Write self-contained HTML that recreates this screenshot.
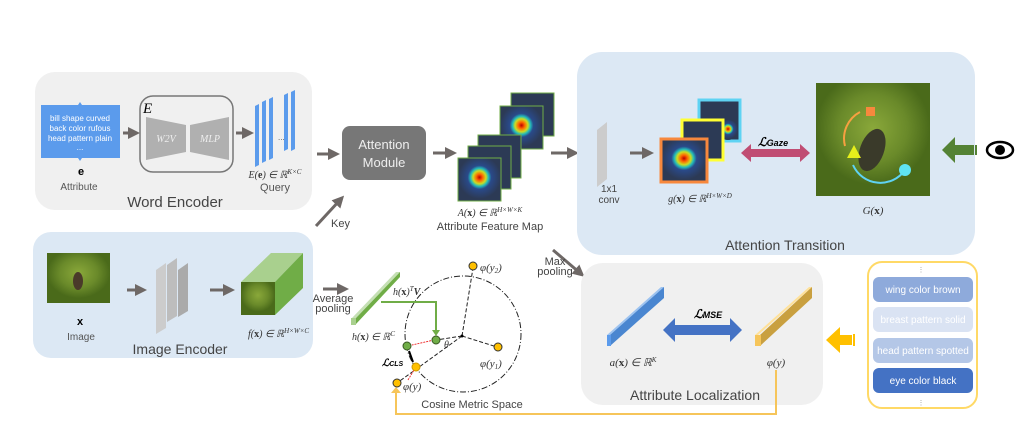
<!DOCTYPE html>
<html><head><style>body{margin:0;background:#fff}svg{display:block}text{font-family:"Liberation Sans",sans-serif}.m{font-family:"Liberation Serif",serif;font-style:italic}</style></head><body>
<svg width="1020" height="428" viewBox="0 0 1020 428" xmlns="http://www.w3.org/2000/svg">
<defs>
<marker id="ga" markerWidth="4" markerHeight="4" refX="2" refY="2" orient="auto"><path d="M0,0L4,2L0,4z" fill="#6e6866"/></marker>
<radialGradient id="heat" cx=".5" cy=".45"><stop offset="0" stop-color="#b00"/><stop offset=".15" stop-color="#f60"/><stop offset=".3" stop-color="#cd2"/><stop offset=".42" stop-color="#2bb"/><stop offset=".55" stop-color="#2a4a8a"/><stop offset="1" stop-color="#2c3a55"/></radialGradient>
<radialGradient id="bird" cx=".5" cy=".4"><stop offset="0" stop-color="#8aa83a"/><stop offset=".6" stop-color="#6a8a2a"/><stop offset="1" stop-color="#4a6a1a"/></radialGradient>
</defs>
<!-- Word encoder -->
<rect x="35" y="72" width="277" height="138" rx="20" fill="#f0f0f0"/>
<path d="M41,105h37l2,-3l2,3h38v53h-38l-2,3l-2,-3h-37z" fill="#5b9bec"/>
<text x="80" y="121" font-size="8" fill="#fff" text-anchor="middle">bill shape curved</text>
<text x="80" y="131" font-size="8" fill="#fff" text-anchor="middle">back color rufous</text>
<text x="80" y="141" font-size="8" fill="#fff" text-anchor="middle">head pattern plain</text>
<text x="80" y="150" font-size="8" fill="#fff" text-anchor="middle">...</text>
<text x="78" y="175" font-size="11" font-weight="bold" font-family="Liberation Serif">e</text>
<text x="79" y="190" font-size="10" fill="#555" text-anchor="middle">Attribute</text>
<line x1="123" y1="133" x2="134" y2="133" stroke="#6e6866" stroke-width="3" marker-end="url(#ga)"/>
<rect x="140" y="96" width="93" height="76" rx="13" fill="none" stroke="#777" stroke-width="1.5"/>
<text x="143" y="113" class="m" font-size="15">E</text>
<path d="M146,117L186,125V152L146,160z" fill="#b0b0b0"/>
<path d="M190,125L229,117V160L190,152z" fill="#b0b0b0"/>
<text x="166" y="142" class="m" font-size="10" fill="#eee" text-anchor="middle">W2V</text>
<text x="210" y="142" class="m" font-size="10" fill="#eee" text-anchor="middle">MLP</text>
<line x1="236" y1="133" x2="248" y2="133" stroke="#6e6866" stroke-width="3" marker-end="url(#ga)"/>
<g fill="#5b9bec"><path d="M255,106l4,-2v61l-4,2z"/><path d="M262,102l4,-2v61l-4,2z"/><path d="M269,99l4,-2v61l-4,2z"/><path d="M284,95l4,-2v56l-4,2z"/><path d="M291,92l4,-2v59l-4,2z"/></g>
<text x="278" y="140" font-size="8" fill="#555">...</text>
<text x="275" y="178" class="m" font-size="10" text-anchor="middle" fill="#333">E(<tspan font-weight="bold" font-style="normal">e</tspan>) ∈ ℝ<tspan font-size="7" dy="-4">K×C</tspan></text>
<text x="275" y="191" font-size="11" fill="#555" text-anchor="middle">Query</text>
<text x="175" y="207" font-size="15" fill="#444" text-anchor="middle">Word Encoder</text>
<!-- Image encoder -->
<rect x="33" y="232" width="280" height="126" rx="18" fill="#dce8f4"/>
<rect x="47" y="253" width="63" height="50" fill="url(#bird)"/>
<ellipse cx="78" cy="281" rx="5" ry="9" fill="#4a3a2a"/>
<text x="80" y="325" font-size="11" font-weight="bold" font-family="Liberation Serif" text-anchor="middle">x</text>
<text x="81" y="340" font-size="10" fill="#555" text-anchor="middle">Image</text>
<line x1="127" y1="290" x2="141" y2="290" stroke="#6e6866" stroke-width="3" marker-end="url(#ga)"/>
<path d="M156,270l10,-7v65l-10,6z" fill="#ccc"/>
<path d="M167,265l10,-7v58l-10,6z" fill="#bdbdbd"/>
<path d="M178,270l10,-7v48l-10,6z" fill="#aaa"/>
<line x1="210" y1="290" x2="229" y2="290" stroke="#6e6866" stroke-width="3" marker-end="url(#ga)"/>
<path d="M241,282L271,253H303L275,282z" fill="#a9d08e"/>
<path d="M275,282L303,253V288L275,315z" fill="#70ad47"/>
<rect x="241" y="282" width="34" height="33" fill="url(#bird)"/>
<text x="248" y="337" class="m" font-size="10" fill="#333">f(<tspan font-weight="bold" font-style="normal">x</tspan>) ∈ ℝ<tspan font-size="7" dy="-4">H×W×C</tspan></text>
<text x="180" y="354" font-size="14" fill="#444" text-anchor="middle">Image Encoder</text>
<!-- Attention module -->
<line x1="317" y1="154" x2="334" y2="154" stroke="#6e6866" stroke-width="3" marker-end="url(#ga)"/>
<rect x="342" y="126" width="84" height="54" rx="8" fill="#777"/>
<text x="384" y="149" font-size="13" fill="#eee" text-anchor="middle">Attention</text>
<text x="384" y="167" font-size="13" fill="#eee" text-anchor="middle">Module</text>
<line x1="316" y1="226" x2="340" y2="200" stroke="#6e6866" stroke-width="3" marker-end="url(#ga)"/>
<text x="331" y="227" font-size="11" fill="#444">Key</text>
<line x1="433" y1="153" x2="451" y2="153" stroke="#6e6866" stroke-width="3" marker-end="url(#ga)"/>
<g stroke="#70ad47" stroke-width="1">
<rect x="511" y="93" width="43" height="43" fill="#2c3a55"/>
<rect x="500" y="106" width="43" height="43" fill="url(#heat)"/>
<rect x="478" y="135" width="43" height="43" fill="#2c3a55"/>
<rect x="468" y="146" width="43" height="43" fill="#2c3a55"/>
<rect x="458" y="158" width="43" height="43" fill="url(#heat)"/>
</g>
<text x="490" y="216" class="m" font-size="10" text-anchor="middle" fill="#333">A(<tspan font-weight="bold" font-style="normal">x</tspan>) ∈ ℝ<tspan font-size="7" dy="-4">H×W×K</tspan></text>
<text x="490" y="230" font-size="11" fill="#444" text-anchor="middle">Attribute Feature Map</text>
<line x1="551" y1="153" x2="573" y2="153" stroke="#6e6866" stroke-width="3" marker-end="url(#ga)"/>
<!-- Attention transition -->
<rect x="577" y="52" width="398" height="203" rx="25" fill="#dce8f4"/>
<path d="M597,130l10,-8v57l-10,8z" fill="#ccc"/>
<text x="609" y="192" font-size="10" fill="#444" text-anchor="middle">1x1</text>
<text x="609" y="203" font-size="10" fill="#444" text-anchor="middle">conv</text>
<line x1="630" y1="153" x2="648" y2="153" stroke="#6e6866" stroke-width="3" marker-end="url(#ga)"/>
<rect x="699" y="100" width="41" height="41" fill="#2c3a55" stroke="#5fd3f3" stroke-width="3"/>
<circle cx="728" cy="130" r="10" fill="url(#heat)"/>
<rect x="682" y="120" width="41" height="40" fill="#2c3a55" stroke="#ffff33" stroke-width="3"/>
<rect x="661" y="139" width="46" height="43" fill="url(#heat)" stroke="#f7883d" stroke-width="3"/>
<text x="700" y="202" class="m" font-size="10" text-anchor="middle" fill="#333">g(<tspan font-weight="bold" font-style="normal">x</tspan>) ∈ ℝ<tspan font-size="7" dy="-4">H×W×D</tspan></text>
<path d="M741,153l10,-9v5h49v-5l10,9l-10,9v-5h-49v5z" fill="#c04d73"/>
<text x="758" y="146" font-size="12" font-weight="bold" font-family="Liberation Serif" font-style="italic">ℒ<tspan font-size="9">Gaze</tspan></text>
<rect x="816" y="83" width="114" height="113" fill="url(#bird)"/>
<ellipse cx="872" cy="150" rx="12" ry="22" fill="#3a3a2a" transform="rotate(20 872 150)"/>
<rect x="866" y="107" width="9" height="9" fill="#f7883d"/>
<path d="M860,112a30,30 0 0 0 -15,34" fill="none" stroke="#f7a040" stroke-width="2"/>
<path d="M847,158l7,-13l7,13z" fill="#e6ef1b"/>
<path d="M853,165a30,30 0 0 0 52,5" fill="none" stroke="#5fd3f3" stroke-width="2"/>
<circle cx="905" cy="170" r="6" fill="#5fe3f3"/>
<text x="873" y="214" class="m" font-size="11" text-anchor="middle" fill="#333">G(<tspan font-weight="bold" font-style="normal">x</tspan>)</text>
<path d="M942,150l13,-13v8h19v10h-19v8z" fill="#548235"/>
<rect x="975" y="145" width="2" height="10" fill="#548235"/>
<ellipse cx="1000" cy="150" rx="13" ry="8" fill="none" stroke="#000" stroke-width="2.5"/>
<circle cx="1000" cy="150" r="5" fill="#000"/>
<text x="785" y="250" font-size="14" fill="#444" text-anchor="middle">Attention Transition</text>
<!-- max pooling -->
<line x1="553" y1="250" x2="580" y2="273" stroke="#6e6866" stroke-width="3" marker-end="url(#ga)"/>
<text x="555" y="265" font-size="11" fill="#444" text-anchor="middle">Max</text>
<text x="555" y="275" font-size="11" fill="#444" text-anchor="middle">pooling</text>
<!-- attribute localization -->
<rect x="581" y="263" width="242" height="142" rx="22" fill="#f0f0f0"/>
<path d="M607,335L661,287H664L610,335z" fill="#9dc3f0"/>
<path d="M610,335L664,287V298L610,346z" fill="#4a86d0"/>
<rect x="607" y="335" width="4" height="11" fill="#5b9bec"/>
<path d="M663,330l12,-12v7h55v-7l12,12l-12,12v-7h-55v7z" fill="#4472c4"/>
<text x="694" y="318" font-size="12" font-weight="bold" font-family="Liberation Serif" font-style="italic">ℒ<tspan font-size="9">MSE</tspan></text>
<path d="M755,335L809,287H812L758,335z" fill="#ffe199"/>
<path d="M760,335L812,287V298L760,346z" fill="#c9a040"/>
<rect x="755" y="335" width="6" height="11" fill="#f6c55a"/>
<text x="633" y="366" class="m" font-size="11" text-anchor="middle" fill="#333">a(<tspan font-weight="bold" font-style="normal">x</tspan>) ∈ ℝ<tspan font-size="7" dy="-4">K</tspan></text>
<text x="776" y="366" class="m" font-size="11" text-anchor="middle" fill="#333">φ(y)</text>
<text x="695" y="400" font-size="14" fill="#444" text-anchor="middle">Attribute Localization</text>
<!-- list -->
<path d="M826,340l14,-13v8h12v10h-12v8z" fill="#ffc000"/>
<rect x="853" y="334" width="2" height="12" fill="#ffc000"/>
<rect x="868" y="262" width="109" height="146" rx="14" fill="#fff" stroke="#ffd966" stroke-width="2"/>
<rect x="873" y="277" width="100" height="25" rx="6" fill="#8eaadb"/>
<rect x="873" y="307" width="100" height="25" rx="6" fill="#dae3f3"/>
<rect x="873" y="338" width="100" height="25" rx="6" fill="#b4c7e7"/>
<rect x="873" y="368" width="100" height="25" rx="6" fill="#4472c4"/>
<g font-size="10" fill="#fff" text-anchor="middle"><text x="923" y="293">wing color brown</text><text x="923" y="323">breast pattern solid</text><text x="923" y="354">head pattern spotted</text><text x="923" y="384">eye color black</text></g>
<text x="921" y="272" font-size="7" fill="#999" text-anchor="middle">⋮</text><text x="921" y="405" font-size="7" fill="#999" text-anchor="middle">⋮</text>
<!-- yellow feedback -->
<path d="M776,370V414H396V392" fill="none" stroke="#f6c55a" stroke-width="2"/>
<path d="M391,393l5,-6l5,6z" fill="#f6c55a"/>
<!-- cosine space -->
<line x1="323" y1="289" x2="343" y2="289" stroke="#6e6866" stroke-width="3" marker-end="url(#ga)"/>
<text x="333" y="302" font-size="11" fill="#444" text-anchor="middle">Average</text>
<text x="333" y="312" font-size="11" fill="#444" text-anchor="middle">pooling</text>
<path d="M352,318L396,272H400L356,318z" fill="#c5e0b4"/>
<path d="M356,318L400,272V277L356,324z" fill="#70ad47"/>
<rect x="351" y="318" width="5" height="7" fill="#a9d08e"/>
<text x="352" y="340" class="m" font-size="10" fill="#333">h(<tspan font-weight="bold" font-style="normal">x</tspan>) ∈ ℝ<tspan font-size="7" dy="-4">C</tspan></text>
<circle cx="463" cy="334" r="58" fill="none" stroke="#222" stroke-width="1" stroke-dasharray="6,2,1,2"/>
<g stroke="#222" stroke-width="1" stroke-dasharray="4,2"><line x1="462" y1="336" x2="473" y2="268"/><line x1="462" y1="336" x2="497" y2="347"/><line x1="462" y1="336" x2="397" y2="383"/><line x1="462" y1="336" x2="436" y2="340"/></g>
<circle cx="462" cy="336" r="1.5" fill="#000"/>
<path d="M381,302H436V330" fill="none" stroke="#70ad47" stroke-width="2"/>
<path d="M432,330l4,6l4,-6z" fill="#70ad47"/>
<text x="393" y="295" class="m" font-size="10" fill="#333">h(<tspan font-weight="bold" font-style="normal">x</tspan>)<tspan font-size="7" dy="-4">T</tspan><tspan dy="4" font-weight="bold">V</tspan></text>
<line x1="434" y1="340" x2="412" y2="345" stroke="#e33" stroke-dasharray="2,1"/>
<line x1="408" y1="380" x2="414" y2="370" stroke="#e33" stroke-dasharray="2,1"/>
<circle cx="436" cy="340" r="4" fill="#70ad47" stroke="#385723"/>
<circle cx="407" cy="346" r="4" fill="#70ad47" stroke="#385723"/>
<circle cx="416" cy="367" r="4" fill="#ffc000" stroke="#c90"/>
<circle cx="397" cy="383" r="4" fill="#ffc000" stroke="#333"/>
<circle cx="473" cy="266" r="4" fill="#ffc000" stroke="#333"/>
<circle cx="498" cy="347" r="4" fill="#ffc000" stroke="#333"/>
<line x1="409" y1="351" x2="413" y2="362" stroke="#000" stroke-width="2"/>
<text x="444" y="348" class="m" font-size="10" fill="#333">θ</text>
<text x="480" y="271" class="m" font-size="11" fill="#333">φ(y<tspan font-size="7" dy="2">2</tspan><tspan dy="-2">)</tspan></text>
<text x="480" y="367" class="m" font-size="11" fill="#333">φ(y<tspan font-size="7" dy="2">1</tspan><tspan dy="-2">)</tspan></text>
<text x="403" y="390" class="m" font-size="11" fill="#333">φ(y)</text>
<text x="382" y="366" font-size="10" font-weight="bold" font-family="Liberation Serif" font-style="italic">ℒ<tspan font-size="7">CLS</tspan></text>
<text x="472" y="408" font-size="11" fill="#444" text-anchor="middle">Cosine Metric Space</text>
</svg>
</body></html>
